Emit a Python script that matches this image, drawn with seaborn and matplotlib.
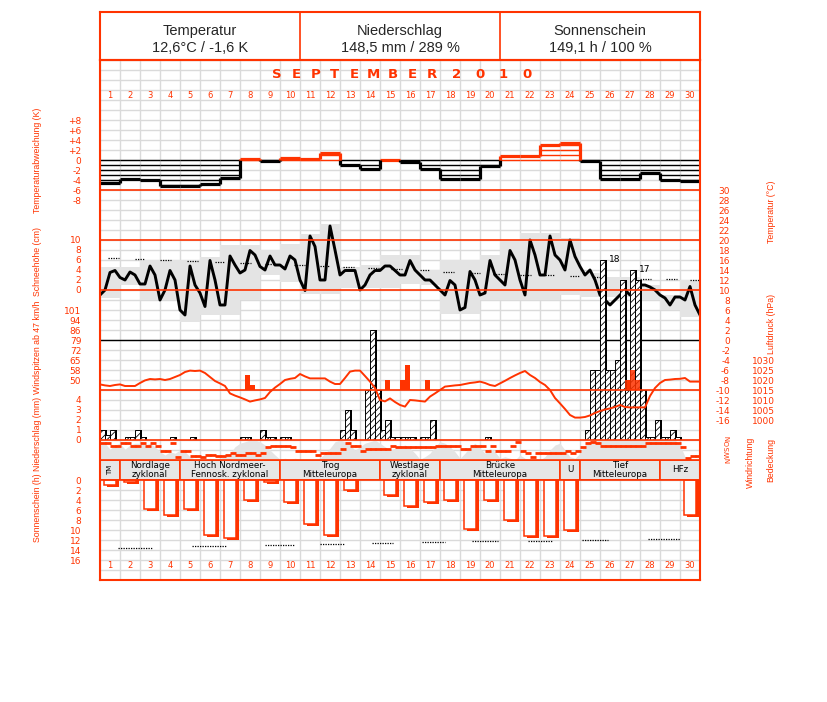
#climate diagram september 2010

import numpy as np
import matplotlib
matplotlib.use("Agg")
import matplotlib.pyplot as plt
import seaborn as sns

W, H = 827, 702
RED = "#ff3300"
BAND = "#e4e4e4"
GRID = "#dadada"
SIDE_FONT = ["Liberation Sans", "DejaVu Sans"]

days = np.arange(1, 31)

head_titles = ["Temperatur", "Niederschlag", "Sonnenschein"]
head_values = ["12,6°C / -1,6 K", "148,5 mm / 289 %", "149,1 h / 100 %"]
month_word = "SEPTEMBER"
year_word = "2010"

# daily temperature deviation (K)
temp_dev = [-4.6, -3.7, -4.0, -5.2, -5.3, -4.7, -3.5, 0.2, -0.1, 0.5, 0.3, 1.5, -1.0, -1.8, 0.1,
            -0.3, -1.7, -3.8, -3.7, -1.2, 0.9, 0.9, 3.0, 3.5, -0.1, -3.8, -3.8, -2.5, -4.1, -4.3]

# temperature every 6 h (°C), from 1st 0h to 30th 24h
temp_6h = [9, 10, 13.5, 13.9, 12.5, 12, 13.6, 13, 11.2, 11.2,
           14.8, 13, 8, 10, 13.9, 12, 6, 5, 14.8, 11,
           9.4, 6.7, 15.9, 12, 7, 7, 16.8, 15, 13.4, 14,
           17.9, 17, 14.7, 14, 16.8, 15, 15, 14.2, 16.8, 16,
           12, 9.9, 20.8, 18.7, 12, 12, 22.8, 18, 13, 13.9,
           13.9, 13.9, 10, 11, 13, 13.9, 13.9, 14.8, 14.8, 13.9,
           13, 13, 15.9, 14, 13, 12, 12, 11, 10, 9,
           11.9, 11, 6, 6.5, 13.7, 12, 9, 9.4, 15.9, 13,
           12, 11, 17.9, 16, 12, 9, 20, 17, 13, 13,
           20.8, 17, 16, 14, 20, 16.7, 14.7, 13, 14, 12,
           9, 8, 7, 8, 9, 10, 9, 10, 11, 11,
           10.6, 10, 9, 8.4, 7, 8.6, 8.6, 8, 10.7, 7, 5]

# grey daily band (°C)
band_hi = [14.6, 14.6, 16, 16, 16, 16.7, 19, 19, 18, 19.3, 21.3, 23.2, 14.6, 15, 17,
           17, 14, 16, 16, 17, 20, 21.3, 21.3, 20.3, 13.4, 12.7, 12.7, 11, 9, 12]
band_lo = [8.4, 11, 8, 8, 3.7, 5, 5, 8, 13, 11.7, 9.3, 9.3, 10.4, 10.4, 10.4,
           11.3, 11, 5.3, 5.3, 8, 8, 8, 8, 9, 8.6, 8.6, 8.6, 8, 6, 4.7]

# dotted reference temperature
clim_day = [1.17, 2.5, 3.79, 5.13, 6.5, 7.79, 9.04, 10.46, 11.75, 12.92, 14.17, 15.33,
            16.75, 17.92, 19.21, 20.42, 21.79, 23.0, 24.25, 25.45, 27.79, 29.08, 30.25]
clim_temp = [16.4, 16.2, 16, 15.8, 15.6, 15.4, 15.2, 15, 14.8, 14.6, 14.4, 14.2,
             14, 13.7, 13.5, 13.2, 13.1, 13, 12.9, 12.7, 12.3, 12.2, 12]

# air pressure every 6 h (hPa)
press_6h = [1017.8, 1017.3, 1017, 1017.5, 1017.8, 1017, 1017, 1017, 1018.5, 1019.8,
            1020.5, 1020.3, 1020.5, 1020, 1020.5, 1021.5, 1022.5, 1024, 1024.7, 1024.5,
            1024.7, 1023.5, 1021.5, 1019.5, 1018.3, 1017, 1013.3, 1012.2, 1011.3, 1010.3,
            1009.2, 1009.8, 1010.3, 1011, 1014, 1016.2, 1018, 1020, 1020.6, 1021,
            1023, 1021.8, 1020.8, 1020.8, 1020.8, 1020.8, 1019.2, 1018, 1018, 1021,
            1024.2, 1024.7, 1024.7, 1022, 1019.2, 1016, 1010, 1009.3, 1010.8, 1009,
            1007.5, 1006.7, 1010, 1009.8, 1009.5, 1009.2, 1011.7, 1013.3, 1015, 1016.7,
            1017, 1017.3, 1017.5, 1018, 1018.5, 1018.8, 1019.2, 1018.5, 1017.5, 1017,
            1018.3, 1019.6, 1021, 1022.3, 1023.5, 1024.5, 1022.5, 1021, 1019, 1017.5,
            1015, 1011, 1008.3, 1005.5, 1002.5, 1001.2, 1001.2, 1001.5, 1002.3, 1003.5,
            1004.5, 1005.2, 1005.8, 1006.5, 1007.5, 1006.5, 1006.3, 1006.3, 1006.3, 1006.3,
            1012, 1016, 1018.5, 1020, 1020.2, 1020.5, 1020.6, 1021, 1019.2, 1019.2, 1019.2]

# precipitation per 6 h slot (mm)
precip_6h = [1.0, 0.5, 1.0, 0, 0, 0.3, 0.3, 1.0, 0.3, 0,
             0, 0, 0, 0, 0.3, 0, 0, 0, 0.3, 0,
             0, 0, 0, 0, 0, 0, 0, 0, 0.3, 0.3,
             0, 0, 1.0, 0.3, 0.3, 0, 0.3, 0.3, 0, 0,
             0, 0, 0, 0, 0, 0, 0, 0, 1.0, 3.0,
             1.0, 0, 0, 5.0, 11.0, 5.0, 1.0, 2.0, 0.3, 0.3,
             0.3, 0.3, 0.3, 0, 0.3, 0.3, 2.0, 0, 0, 0,
             0, 0, 0, 0, 0, 0, 0, 0.3, 0, 0,
             0, 0, 0, 0, 0, 0, 0, 0, 0, 0,
             0, 0, 0, 0, 0, 0, 0, 1.0, 7.0, 7.0,
             18.0, 7.0, 7.0, 8.0, 16.0, 5.0, 17.0, 16.0, 5.0, 0.3,
             0.3, 2.0, 0.3, 0.3, 1.0, 0.3, 0, 0, 0, 0]

# wind gusts from 47 km/h (slot index, km/h)
gust_slot = [29, 30, 57, 60, 61, 65, 105, 106, 107]
gust_kmh = [53.6, 46.4, 50, 50, 61, 50, 50, 57.3, 50]

# wind direction per 6 h slot (degrees)
wind_dir = [50, 50, 110, 110, 50, 50, 110, 110, 50, 110,
            50, 110, 190, 190, 50, 300, 190, 190, 290, 290,
            300, 270, 270, 290, 290, 270, 230, 270, 270, 230,
            230, 270, 230, 130, 110, 110, 110, 110, 130, 190,
            190, 190, 190, 270, 230, 230, 230, 230, 160, 50,
            110, 110, 190, 160, 160, 160, 160, 160, 110, 130,
            130, 130, 130, 130, 130, 130, 130, 110, 110, 110,
            110, 110, 160, 160, 110, 110, 110, 190, 110, 190,
            190, 190, 110, 30, 190, 230, 310, 230, 230, 230,
            230, 230, 230, 190, 230, 190, 130, 60, 30, 60,
            110, 110, 110, 110, 110, 110, 110, 110, 110, 50,
            50, 50, 50, 50, 50, 50, 130, 320, 290, 290]

# cloud cover every 6 h (octas)
cover_6h = [6.4, 6.7, 4.3, 6, 6.7, 4.3, 6, 6.7, 6.7, 6,
            6.7, 5.3, 3.3, 2, 3.3, 2.7, 4, 3.3, 1.3, 0.3,
            0.7, 0.3, 0.7, 0.3, 0.7, 1.3, 2.7, 5.3, 6.7, 7.3,
            8, 8, 7.3, 6, 4, 2, 0.3, 0.7, 0.3, 0.7,
            0.3, 0, 0.3, 0, 0.7, 2.7, 4.7, 7.3, 8, 7.3,
            6, 4, 5.3, 6.7, 7.3, 8, 6.7, 5.3, 4, 4.7,
            5.3, 6, 4.7, 2.7, 0.3, 1.3, 2.7, 5.3, 7.3, 6.7,
            5.3, 3.3, 0.7, 2.7, 5.3, 6.7, 4.7, 2.7, 4.7, 3.3,
            0.7, 1.3, 0.7, 0, 2, 0.7, 0, 0.7, 0, 1.3,
            4, 6, 6.7, 4, 1.3, 0.7, 2.7, 6, 7.6, 8,
            8, 8, 8, 8, 8, 8, 8, 8, 8, 8,
            8, 8, 8, 8, 8, 8, 6, 1.3, 0.3, 0.3, 0.3]

# Grosswetterlagen
gwl_start = [1, 2, 5, 10, 15, 18, 24, 25, 29]
gwl_end = [1, 4, 9, 14, 17, 23, 24, 28, 30]
gwl_label = ["TM", "Nordlage\nzyklonal", "Hoch Nordmeer-\nFennosk. zyklonal", "Trog\nMitteleuropa",
             "Westlage\nzyklonal", "Brücke\nMitteleuropa", "U", "Tief\nMitteleuropa", "HFz"]

# sunshine (h) and dotted reference
sun_h = [0.9, 0.3, 5.7, 6.9, 5.7, 10.9, 11.5, 4.0, 0.3, 4.3, 8.7, 10.9, 2.0, 0, 3.0,
         5.2, 4.3, 4.0, 9.7, 4.0, 8.0, 11.2, 11.2, 10.0, 0, 0, 0, 0, 0, 6.9]
sun_ref_from = [1.4, 5.1, 8.75, 11.5, 14.1, 16.6, 19.1, 21.9, 24.6, 27.9]
sun_ref_to = [3.15, 6.85, 10.25, 12.75, 15.15, 17.75, 20.4, 23.1, 25.9, 29.5]
sun_ref = [13.5, 13.2, 13.0, 12.8, 12.5, 12.4, 12.2, 12.1, 11.9, 11.7]


sns.set_theme(style="white")
plt.rcParams["font.family"] = ["DejaVu Sans"]
plt.rcParams["hatch.linewidth"] = 0.6

fig = plt.figure(figsize=(W / 100, H / 100), dpi=100)


def px_axes(top, bottom, z):
    ax = fig.add_axes([100 / W, 1 - bottom / H, 600 / W, (bottom - top) / H])
    ax.set_zorder(z)
    ax.patch.set_visible(False)
    for s in ax.spines.values():
        s.set_visible(False)
    ax.set_xlim(0.5, 30.5)
    ax.set_xticks([])
    ax.set_yticks([])
    ax.grid(False)
    return ax


def ylabels(ax, ticks, labels, right=False, pad=13.5):
    if right:
        ax.yaxis.tick_right()
    ax.set_yticks(ticks, labels, ha="right")
    ax.tick_params(axis="y", length=0, pad=pad, labelsize=6.5, labelcolor=RED)


def ftext(x, y, s, **kw):
    fig.text(x / W, 1 - y / H, s, **kw)


x6 = 0.5 + 0.25 * np.arange(len(temp_6h))
slot = 0.5 + 0.25 * np.arange(len(precip_6h))

# background grid
ax_b = px_axes(60, 580, 0)
ax_b.set_ylim(580, 60)
ax_b.set_xticks(np.arange(0.5, 31, 1))
ax_b.set_yticks(np.arange(60, 581, 10))
ax_b.grid(True, color=GRID, lw=1)
ax_b.tick_params(length=0, labelbottom=False, labelleft=False)

# temperature deviation
dev = np.array(temp_dev)
ax_dev = px_axes(110, 200, 2)
ax_dev.set_ylim(-8, 10)
ylabels(ax_dev, [8, 6, 4, 2, 0, -2, -4, -6, -8], ["+8", "+6", "+4", "+2", "0", "-2", "-4", "-6", "-8"])
for lev in range(0, -9, -1):
    m = dev < lev
    ax_dev.hlines(np.full(m.sum(), lev), days[m] - 0.5, days[m] + 0.5, colors="black", lw=1)
for lev in range(0, 9):
    m = dev > lev
    ax_dev.hlines(np.full(m.sum(), lev), days[m] - 0.5, days[m] + 0.5, colors=RED, lw=1)
cols = np.where(dev < 0, "black", RED)
ax_dev.hlines(dev, days - 0.5, days + 0.5, colors=cols, lw=2.3)
for i in range(29):
    a, b = sorted([dev[i], dev[i + 1]])
    if a < 0:
        ax_dev.vlines(i + 1.5, a, min(b, 0), colors="black", lw=2.3)
    if b > 0:
        ax_dev.vlines(i + 1.5, max(a, 0), b, colors=RED, lw=2.3)

# temperature
ax_t = px_axes(190, 420, 1)
ax_t.set_ylim(-16, 30)
ylabels(ax_t, np.arange(-16, 31, 2), [str(v) for v in range(-16, 31, 2)], right=True, pad=21.6)
ax_t.bar(days, np.array(band_hi) - np.array(band_lo), bottom=band_lo, width=1.0, color=BAND, lw=0, zorder=1)
ax_t.hlines(clim_temp, np.array(clim_day) - 0.27, np.array(clim_day) + 0.27, colors="black",
            linestyles=(0, (1, 1)), lw=0.9, zorder=2)
ax_t.axhline(0, color="black", lw=1, zorder=2)
sns.lineplot(x=x6, y=temp_6h, ax=ax_t, color="black", lw=2.1, zorder=3)
ax_t.set_xlim(0.5, 30.5)

# snow height labels
ax_sn = px_axes(240, 290, 1)
ax_sn.set_ylim(0, 10)
ylabels(ax_sn, [0, 2, 4, 6, 8, 10], ["0", "2", "4", "6", "8", "10"])

# wind gusts
w_lo = 50 - 10 * 51 / 70
w_hi = 50 + 80 * 51 / 70
ax_w = px_axes(300, 390, 2)
ax_w.set_ylim(w_lo, w_hi)
ylabels(ax_w, [50 + k * 51 / 7 for k in range(8)], ["50", "58", "65", "72", "79", "86", "94", "101"])
g = np.array(gust_kmh)
ax_w.bar(slot[gust_slot], g - w_lo, bottom=w_lo, width=0.25, align="edge", color=RED, lw=0)

# precipitation
pr = np.array(precip_6h)
m = pr > 0
ax_p = px_axes(240, 440, 3)
ax_p.set_ylim(0, 20)
ylabels(ax_p, [0, 1, 2, 3, 4], ["0", "1", "2", "3", "4"])
ax_p.bar(slot[m] + 0.08, pr[m], width=0.25, align="edge", color="black", lw=0, zorder=2)
ax_p.bar(slot[m], pr[m], width=0.25, align="edge", color="white", lw=0, zorder=3)
ax_p.bar(slot[m], pr[m], width=0.25, align="edge", facecolor="none", edgecolor="black",
         hatch="/////", lw=0.7, zorder=5)
for xs, v in zip(slot[m], pr[m]):
    if v > 16.5:
        ax_p.text(xs + 0.45, v, f"{v:.0f}", fontsize=6.5, color="black", va="center", ha="left")

# gusts drawn again under the hatch where they overlap the bars
ax_p2 = px_axes(300, 390, 4)
ax_p2.set_ylim(w_lo, w_hi)
over = [i for i, s_ in enumerate(gust_slot) if pr[s_] > 0]
ax_p2.bar(slot[np.array(gust_slot)[over]], g[over] - w_lo, bottom=w_lo, width=0.25, align="edge",
          color=RED, lw=0, alpha=0.85)

# air pressure
ax_pr = px_axes(340, 420, 6)
ax_pr.set_ylim(1000, 1040)
ylabels(ax_pr, [1000, 1005, 1010, 1015, 1020, 1025, 1030],
        ["1000", "1005", "1010", "1015", "1020", "1025", "1030"], right=True, pad=54)
sns.lineplot(x=x6, y=press_6h, ax=ax_pr, color=RED, lw=1.4)
ax_pr.set_xlim(0.5, 30.5)

# cloud cover and wind direction
ax_c = px_axes(440, 460, 2)
ax_c.set_ylim(0, 8)
ax_c.fill_between(x6, cover_6h, color=BAND, lw=0)
ax_d = px_axes(440, 460, 3)
ax_d.set_ylim(360, 0)
ax_d.plot(slot + 0.125, wind_dir, ls="none", marker="_", ms=4, mew=2, color=RED)
for i, ch in enumerate(["N", "O", "S", "W", "N"]):
    ftext(728, 438 + 5.5 * i, ch, fontsize=5, color=RED, rotation=90, ha="center", va="center")

# Grosswetterlagen
ax_g = px_axes(460, 480, 3)
ax_g.set_ylim(0, 1)
for s_, e_, lab in zip(gwl_start, gwl_end, gwl_label):
    c = (s_ + e_) / 2
    ax_g.bar(c, 1, width=e_ - s_ + 1, bottom=0, color="#e6e6e6", edgecolor=RED, lw=1.2)
    rot = 90 if lab == "TM" else 0
    ax_g.text(c, 0.5, lab, fontsize=6.3 if rot == 0 else 5, ha="center", va="center",
              rotation=rot, linespacing=1.0, color="black")

# sunshine
sun = np.array(sun_h)
ms_ = sun > 0
ax_s = px_axes(480, 560, 3)
ax_s.set_ylim(16, 0)
ylabels(ax_s, np.arange(0, 17, 2), [str(v) for v in range(0, 17, 2)])
ax_s.bar(days[ms_] + 0.13, sun[ms_] + 0.45, width=0.6, color=RED, lw=0)
ax_s.bar(days[ms_], sun[ms_], width=0.6, facecolor="white", edgecolor=RED, lw=1.1)
ax_s.hlines(sun_ref, sun_ref_from, sun_ref_to, colors="black", linestyles=(0, (1, 1)), lw=0.9)

# frame, section lines, day numbers, month
ax_o = px_axes(60, 580, 10)
ax_o.set_ylim(580, 60)
for s in ax_o.spines.values():
    s.set_visible(True)
    s.set_color(RED)
    s.set_linewidth(1.5)
ax_o.hlines([190, 240, 290, 390, 440, 460, 480], 0.5, 30.5, colors=RED, lw=1.2)
for d in days:
    ax_o.text(d, 96, str(d), fontsize=6, color=RED, ha="center", va="center")
    ax_o.text(d, 566, str(d), fontsize=6, color=RED, ha="center", va="center")
for i, ch in enumerate(month_word):
    ax_o.text(0.5 + (277 + 19.3 * i - 100) / 20, 75, ch, fontsize=9.5, fontweight="bold",
              color=RED, ha="center", va="center")
for i, ch in enumerate(year_word):
    ax_o.text(0.5 + (457 + 23.3 * i - 100) / 20, 75, ch, fontsize=9.5, fontweight="bold",
              color=RED, ha="center", va="center")

# header
ax_h = fig.add_axes([100 / W, 1 - 60 / H, 600 / W, 48 / H])
ax_h.set_xlim(0, 3)
ax_h.set_ylim(0, 1)
ax_h.set_xticks([])
ax_h.set_yticks([])
for s in ax_h.spines.values():
    s.set_color(RED)
    s.set_linewidth(1.5)
ax_h.axvline(1, color=RED, lw=1.2)
ax_h.axvline(2, color=RED, lw=1.2)
for i, (t, v) in enumerate(zip(head_titles, head_values)):
    ax_h.text(i + 0.5, 0.6, t, fontsize=10.5, family="Liberation Sans", ha="center", va="center")
    ax_h.text(i + 0.5, 0.25, v, fontsize=10.5, family="Liberation Sans", ha="center", va="center")

# side labels
side = dict(color=RED, rotation=90, ha="center", va="center", fontsize=6.3, family=SIDE_FONT)
ftext(37, 160, "Temperaturabweichung (K)", **side)
ftext(37, 261, "Schneehöhe (cm)", **side)
ftext(37, 347, "Windspitzen ab 47 km/h", **side)
ftext(37, 434, "Niederschlag (mm)", **side)
ftext(37, 508, "Sonnenschein (h)", **side)
ftext(771, 212, "Temperatur (°C)", **side)
ftext(771, 324, "Luftdruck (hPa)", **side)
ftext(750, 462, "Windrichtung", **side)
ftext(771, 460, "Bedeckung", **side)

fig.savefig("out.png", dpi=100)
